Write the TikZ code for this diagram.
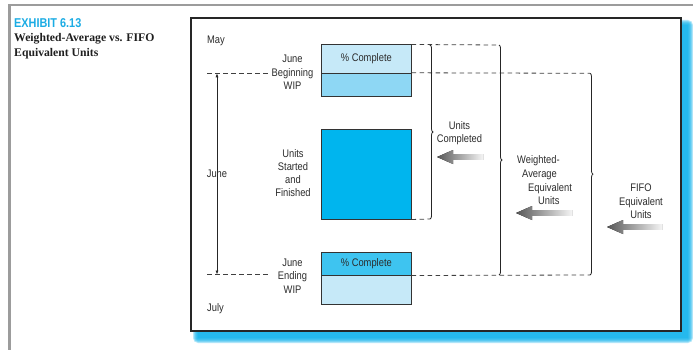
\documentclass[tikz,border=0pt]{standalone}
\usepackage{fontspec}
\setmainfont{Liberation Serif}
\newfontfamily\cond{Liberation Sans}[FakeStretch=0.85]
\usetikzlibrary{arrows.meta,decorations.pathreplacing,shadings}
\definecolor{txt}{HTML}{2C2C2C}
\definecolor{lightb}{HTML}{C6E9F8}
\definecolor{midb}{HTML}{8ED7F4}
\definecolor{cyanb}{HTML}{00B5EE}
\definecolor{endb}{HTML}{3EC4F0}
\definecolor{shadowb}{HTML}{0AB2EC}
\definecolor{exh}{HTML}{1BACE4}
\definecolor{framegray}{HTML}{9C9C9C}
\tikzset{
  diag/.style={font=\cond\fontsize{11}{13.5}\selectfont, text=txt, align=center, inner sep=0pt},
  boxn/.style={draw=black!80, line width=1pt, minimum width=89.3pt, inner sep=0pt,
    font=\cond\fontsize{11}{13}\selectfont, text=txt},
  dashln/.style={draw=black!75, line width=0.8pt, dash pattern=on 4.5pt off 3.5pt},
  bracel/.style={draw=black!85, line width=0.8pt, decorate, decoration={brace, amplitude=3pt}},
  pics/garrow/.style={code={
    \fill[left color=black!66, right color=black!4]
      (0,0) -- (16,-7) -- (16,-2.8) -- (#1,-2.8) -- (#1,2.8) -- (16,2.8) -- (16,7) -- cycle;}}
}
\begin{document}
\begin{tikzpicture}[x=1pt,y=-1pt]
\useasboundingbox (0,0) rectangle (693,350);
\fill[white] (0,0) rectangle (693,350);
% outer gray frame
\draw[framegray, line width=2.3pt] (9.5,355) -- (9.5,5) -- (700,5);
% title
\node[anchor=base west, inner sep=0pt, text=exh, font=\cond\bfseries\fontsize{12.8}{14}\selectfont] (exhibit) at (14,27.3) {EXHIBIT 6.13};
\node[anchor=west, inner sep=0pt, align=left, text=black!88, font=\bfseries\fontsize{11.7}{15}\selectfont] (title) at (14,46.5) {Weighted-Average vs. FIFO\\Equivalent Units};
% shadow
\foreach \d in {0,...,5}
  \fill[shadowb, opacity=0.3, rounded corners={\d pt}] ({198-\d},{25-\d}) rectangle ({688+\d},{338+\d});
% inner frame
\draw[line width=1.2pt, draw=black!85, fill=white] (191,18) rectangle (681,331);
% month labels
\node[diag, anchor=west] (may) at (207,41) {May};
\node[diag, anchor=west] (july) at (207,309) {July};
% boxes
\node[boxn, fill=lightb, minimum height=28.3pt] (bwtop) at (366.35,59.15) {\% Complete};
\node[boxn, fill=midb, minimum height=23.4pt] (bwbot) at (366.35,85) {};
\node[boxn, fill=cyanb, minimum height=89pt] (usf) at (366.35,174.5) {};
\node[boxn, fill=endb, minimum height=22.3pt] (ewtop) at (366.35,263.85) {\% Complete};
\node[boxn, fill=lightb, minimum height=29pt] (ewbot) at (366.35,289.5) {};
% left labels
\node[diag] (bwl) at (292.5,72.5) {June\\Beginning\\WIP};
\node[diag, font=\cond\fontsize{11}{13}\selectfont] (usfl) at (293,173.5) {Units\\Started\\and\\Finished};
\node[diag] (ewl) at (292.5,276) {June\\Ending\\WIP};
% coordinates
\coordinate (ltl) at (207,73.3);
\coordinate (ltr) at (269,73.3);
\coordinate (lbl) at (207,274.5);
\coordinate (lbr) at (269,274.5);
\coordinate (ltop) at (217,73.3);
\coordinate (lbot) at (217,274.5);
\coordinate (ucTop) at (430,45);
\coordinate (ucBot) at (430,219);
\coordinate (waTop) at (499,45);
\coordinate (waBot) at (499,275);
\coordinate (ffTop) at (590,73.3);
\coordinate (ffBot) at (590,275);
% June span
\draw[line width=0.7pt, black!85, {Latex[length=4pt,width=3pt]}-{Latex[length=4pt,width=3pt]}] (ltop) -- (lbot);
\node[diag] (junem) at (217,173.5) {June};
% dashed lines
\draw[dashln] (ltl) -- (ltr);
\draw[dashln] (lbl) -- (lbr);
\draw[dashln] (bwtop.north east) -- (waTop);
\draw[dashln] (bwbot.north east) -- (ffTop);
\draw[dashln] (usf.south east) -- (ucBot);
\draw[dashln] (ewtop.south east) -- (ffBot);
% braces
\draw[bracel] (ucTop) -- (ucBot);
\draw[bracel] (waTop) -- (waBot);
\draw[bracel] (ffTop) -- (ffBot);
% right labels
\node[diag] (ucl) at (459.5,133) {Units\\Completed};
\node[diag, align=left, anchor=west, font=\cond\fontsize{11}{13.7}\selectfont] (wal) at (517,180.5)
  {Weighted-\\\hspace*{5pt}Average\\\hspace*{11pt}Equivalent\\\hspace*{21pt}Units};
\node[diag, font=\cond\fontsize{11}{13.3}\selectfont] (ffl) at (641,201.3) {FIFO\\Equivalent\\Units};
% gray arrows
\pic at (437,157) {garrow=46};
\pic at (516,213) {garrow=56};
\pic at (607,227) {garrow=55};
\end{tikzpicture}
\end{document}
